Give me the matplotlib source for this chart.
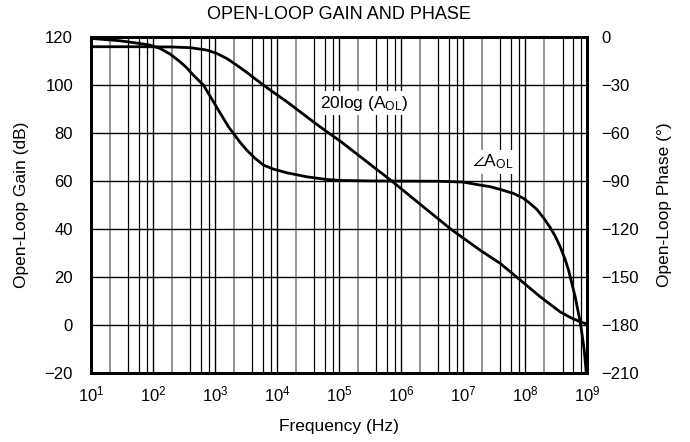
import numpy as np
import matplotlib.pyplot as plt
from matplotlib.ticker import FixedLocator, NullFormatter

plt.rcParams['font.family'] = ['Liberation Sans', 'DejaVu Sans']
plt.rcParams['mathtext.fontset'] = 'custom'
plt.rcParams['mathtext.rm'] = 'Liberation Sans'
plt.rcParams['mathtext.it'] = 'Liberation Sans:italic'
plt.rcParams['mathtext.bf'] = 'Liberation Sans:bold'
plt.rcParams['mathtext.fallback'] = 'stixsans'

# values (x as log10 of frequency in Hz)
gain_logf = [1.0, 1.79, 2.3, 2.6, 2.866, 3.027, 3.188, 3.349, 3.511, 3.672, 3.78,
             3.94, 4.156, 4.37, 4.585, 4.80, 5.016, 5.5, 5.85, 6.3, 6.8, 7.274,
             7.597, 7.919, 8.242, 8.564, 8.726, 8.887, 9.0]
gain_db = [116.0, 116.0, 115.9, 115.6, 114.6, 113.2, 111.1, 108.3, 105.3, 102.1, 100.0,
           97.0, 93.1, 88.9, 84.7, 80.6, 76.7, 67.0, 60.0, 50.5, 40.0, 31.2,
           25.7, 18.8, 11.8, 5.5, 3.2, 1.4, 0.4]

phase_logf = [1.0, 1.45, 1.79, 1.951, 2.113, 2.274, 2.435, 2.543, 2.65, 2.731, 2.812,
              2.892, 2.973, 3.053, 3.134, 3.215, 3.295, 3.403, 3.51, 3.645, 3.779,
              3.941, 4.156, 4.478, 4.801, 5.016, 5.5, 6.0, 6.6, 7.0, 7.274, 7.435,
              7.597, 7.812, 7.973, 8.08, 8.188, 8.295, 8.403, 8.484, 8.564, 8.645,
              8.699, 8.753, 8.806, 8.849, 8.887, 8.919, 8.952, 8.984]
phase_deg = [-0.8, -2.2, -4.0, -5.0, -7.1, -10.6, -15.4, -19.2, -23.8, -26.9, -30.0,
             -35.2, -40.4, -45.6, -50.8, -56.0, -60.2, -65.8, -70.6, -75.8, -80.0,
             -82.5, -84.8, -87.3, -89.0, -89.6, -89.9, -90.0, -90.1, -90.6, -92.5, -93.5,
             -95.2, -97.7, -100.8, -104.0, -107.7, -112.9, -119.0, -124.4, -131.0, -139.0,
             -145.6, -154.0, -162.3, -170.6, -177.9, -186.3, -195.6, -209.2]

gain_f = 10 ** np.array(gain_logf)
phase_f = 10 ** np.array(phase_logf)

fig = plt.figure(figsize=(6.9, 4.42), dpi=100)
ax = fig.add_axes([0.132, 0.156, 0.719, 0.76])
ax2 = ax.twinx()

ax.set_xscale('log')
ax.set_xlim(10, 1e9)
ax.set_ylim(-20, 120)
ax2.set_ylim(-210, 0)

# grid: decades + 2,4,6,8 in each decade (2 drawn lighter)
for d in range(1, 9):
    base = 10 ** d
    ax.axvline(base * 2, color='#808080', lw=1.2, zorder=1)
    for m in (4, 6, 8):
        ax.axvline(base * m, color='black', lw=0.9, zorder=1)
    if d > 1:
        ax.axvline(base, color='black', lw=1.0, zorder=1)
for y in range(0, 120, 20):
    ax.axhline(y, color='black', lw=1.0, zorder=1)

ax.plot(gain_f, gain_db, color='black', lw=2.0, zorder=3)
ax2.plot(phase_f, phase_deg, color='black', lw=2.0, zorder=3)

ax.xaxis.set_major_locator(FixedLocator([10 ** d for d in range(1, 10)]))
ax.set_xticklabels(['$\\mathregular{10^{%d}}$' % d for d in range(1, 10)])
ax.xaxis.set_minor_formatter(NullFormatter())
ax.set_yticks(range(-20, 121, 20))
ax2.set_yticks(range(-210, 1, 30))

for a in (ax, ax2):
    a.tick_params(which='both', length=0, labelsize=12, colors='black')
    for s in a.spines.values():
        s.set_linewidth(2.0)
ax.tick_params(axis='x', pad=8)
ax.tick_params(axis='y', pad=13)
ax2.tick_params(axis='y', pad=10)

ax.set_xlabel('Frequency (Hz)', fontsize=12.5, labelpad=11)
ax.set_ylabel('Open-Loop Gain (dB)', fontsize=12.5, labelpad=11)
ax2.set_ylabel('Open-Loop Phase (°)', fontsize=12.5, labelpad=13)
ax.set_title('OPEN-LOOP GAIN AND PHASE', fontsize=13, pad=13)

box = dict(facecolor='white', edgecolor='none', pad=2)
ax.text(10 ** 5.4, 92.5, '20log (A$_{\\mathregular{OL}}$)', fontsize=12.5, ha='center',
        va='center', bbox=box, zorder=4)
ax.text(10 ** 7.48, 68, '$\\angle$A$_{\\mathregular{OL}}$', fontsize=12.5, ha='center',
        va='center', bbox=box, zorder=4)

ax2.set_zorder(ax.get_zorder() + 1)
ax2.patch.set_visible(False)

fig.savefig('out.png', dpi=100)
